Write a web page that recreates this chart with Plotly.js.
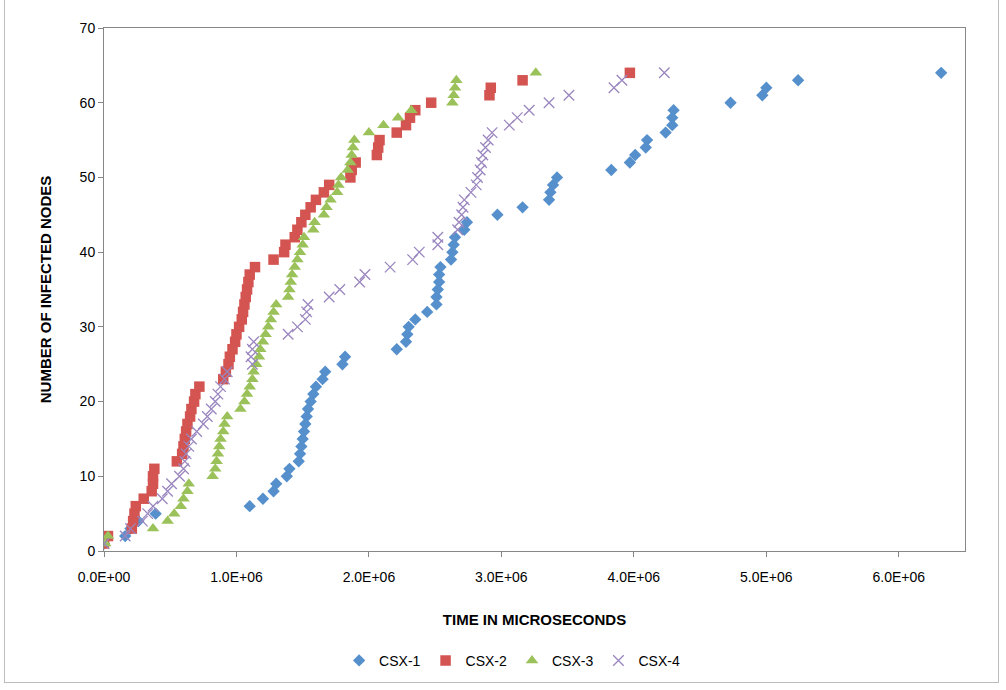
<!DOCTYPE html>
<html>
<head>
<meta charset="utf-8">
<script src="https://cdn.plot.ly/plotly-3.0.1.min.js"></script>
<style>
html,body{margin:0;padding:0;background:#fff;}
#frame{position:absolute;left:4px;top:-2px;width:995px;height:685px;border:1px solid #bdbdbd;box-sizing:border-box;}
#chart{position:absolute;left:0;top:0;width:1006px;height:690px;}
</style>
</head>
<body>
<div id="frame"></div>
<div id="chart"></div>
<script>
// Number of infected nodes (y) vs. time in units of 1e6 microseconds (x)
const nodes = [];
for (let i = 1; i <= 64; i++) nodes.push(i);

const csx1Time = [0.00,0.16,0.20,0.26,0.39,1.10,1.20,1.28,1.30,1.38,1.40,1.47,1.48,1.49,1.50,1.51,
  1.52,1.53,1.54,1.56,1.58,1.60,1.65,1.67,1.80,1.82,2.21,2.28,2.29,2.30,2.35,2.44,
  2.51,2.51,2.52,2.53,2.53,2.54,2.62,2.63,2.64,2.65,2.72,2.74,2.97,3.16,3.36,3.37,
  3.39,3.42,3.83,3.97,4.01,4.09,4.10,4.24,4.29,4.29,4.30,4.73,4.97,5.00,5.24,6.32];
const csx2Time = [0.00,0.03,0.21,0.22,0.23,0.24,0.30,0.36,0.37,0.37,0.38,0.55,0.59,0.60,0.61,0.62,
  0.63,0.65,0.66,0.68,0.69,0.72,0.90,0.92,0.94,0.95,0.97,0.99,1.00,1.02,1.04,1.05,
  1.06,1.07,1.08,1.09,1.10,1.14,1.28,1.36,1.37,1.44,1.46,1.49,1.52,1.56,1.60,1.66,
  1.70,1.86,1.87,1.90,2.06,2.07,2.08,2.21,2.28,2.31,2.35,2.47,2.91,2.92,3.16,3.97];
const csx3Time = [0.01,0.03,0.37,0.48,0.53,0.58,0.60,0.63,0.64,0.82,0.84,0.85,0.86,0.87,0.88,0.90,
  0.91,0.93,1.03,1.06,1.08,1.10,1.12,1.13,1.15,1.17,1.18,1.20,1.22,1.24,1.26,1.28,
  1.30,1.39,1.40,1.41,1.42,1.44,1.46,1.48,1.50,1.51,1.58,1.59,1.66,1.68,1.71,1.76,
  1.77,1.79,1.84,1.86,1.87,1.88,1.89,2.00,2.11,2.22,2.32,2.63,2.64,2.65,2.66,3.26];
const csx4Time = [0.00,0.16,0.20,0.29,0.33,0.37,0.44,0.48,0.51,0.57,0.60,0.61,0.62,0.64,0.66,0.70,
  0.75,0.78,0.81,0.84,0.86,0.88,0.91,0.93,1.12,1.11,1.12,1.13,1.39,1.46,1.52,1.53,
  1.54,1.70,1.78,1.93,1.97,2.16,2.33,2.38,2.52,2.52,2.67,2.68,2.70,2.71,2.72,2.77,
  2.81,2.82,2.84,2.85,2.86,2.88,2.90,2.93,3.06,3.12,3.21,3.36,3.51,3.85,3.91,4.23];

const seriesNames = ['CSX-1','CSX-2','CSX-3','CSX-4'];
const xTickVals = [0,1,2,3,4,5,6];
const xTickText = ['0.0E+00','1.0E+06','2.0E+06','3.0E+06','4.0E+06','5.0E+06','6.0E+06'];
const yTickVals = [0,10,20,30,40,50,60,70];

const scale = 1e6;
const toMicro = a => a.map(v => v * scale);

const styles = [
  {symbol:'diamond', color:'#5690CC', size:9.5, line:{width:0}},
  {symbol:'square', color:'#D35450', size:10.5, line:{width:0}},
  {symbol:'triangle-up', color:'#9BC25A', size:11, line:{width:0}},
  {symbol:'x-thin-open', color:'#9A86BF', size:10.5, line:{width:1.3, color:'#9A86BF'}}
];
const times = [csx1Time, csx2Time, csx3Time, csx4Time];

const data = times.map((t, i) => ({
  type:'scatter', mode:'markers', name:seriesNames[i],
  x: toMicro(t), y: nodes,
  marker: styles[i]
}));

const font = "'Liberation Sans Narrow','Liberation Sans',Arial,sans-serif";
const layout = {
  width:1006, height:690,
  margin:{l:104, r:41, t:28, b:139, pad:0},
  paper_bgcolor:'rgba(0,0,0,0)', plot_bgcolor:'#fff',
  font:{family:font, size:14, color:'#000'},
  showlegend:true,
  legend:{orientation:'h', x:0.474, xanchor:'center', y:-0.21, yanchor:'middle',
    font:{family:font, size:14, color:'#000'}, itemwidth:30, tracegroupgap:0},
  xaxis:{
    range:[0, 6.5e6], tickvals:toMicro(xTickVals), ticktext:xTickText,
    showgrid:false, zeroline:false, showline:true, linecolor:'#878787', linewidth:1, mirror:true,
    ticks:'outside', ticklen:5, tickcolor:'#878787', ticklabelstandoff:8,
    tickfont:{family:font, size:14}, automargin:false,
    title:{text:'<b>TIME IN MICROSECONDS</b>', font:{family:font, size:15}, standoff:30}
  },
  yaxis:{
    range:[0,70], tickvals:yTickVals,
    showgrid:false, zeroline:false, showline:true, linecolor:'#878787', linewidth:1, mirror:true,
    ticks:'outside', ticklen:5, tickcolor:'#878787',
    tickfont:{family:font, size:14}, automargin:false,
    title:{text:'<b>NUMBER OF INFECTED NODES</b>', font:{family:font, size:15}, standoff:24}
  }
};

Plotly.newPlot('chart', data, layout, {displayModeBar:false, staticPlot:true});
</script>
</body>
</html>
